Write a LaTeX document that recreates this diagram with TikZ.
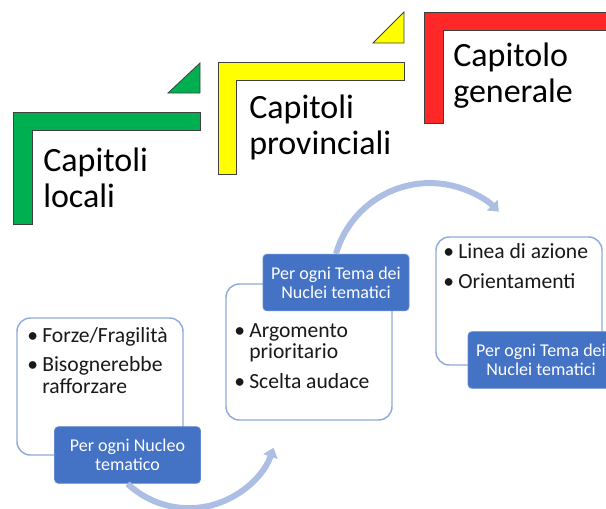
\documentclass[tikz,border=0pt]{standalone}
\usepackage{fontspec}
\setmainfont{Carlito}
\usetikzlibrary{arrows.meta}
\definecolor{stepgreen}{RGB}{0,176,80}
\definecolor{stepyellow}{RGB}{255,255,0}
\definecolor{stepred}{RGB}{255,40,40}
\definecolor{panelline}{RGB}{143,170,220}
\definecolor{tagblue}{RGB}{68,114,196}
\definecolor{tagline}{RGB}{98,138,208}
\definecolor{flowblue}{RGB}{172,190,228}
\newcommand{\bulitem}{\makebox[11.25pt][l]{•}}
\newcommand{\bulcont}{\hspace*{11.25pt}}

\begin{document}
\begin{tikzpicture}[
    x=0.75pt, y=-0.75pt,
    stair/.style={draw=black!75, line width=0.6pt},
    stair label/.style={anchor=base west, align=left, inner sep=0pt,
    font=\fontsize{25.5}{27}\selectfont},
    panel/.style={draw=panelline, line width=1.1pt, fill=white,
    rounded corners=10pt, minimum width=124.5pt},
    tag/.style={draw=tagline, line width=0.6pt, fill=tagblue,
    rounded corners=3pt, minimum width=109.5pt, minimum height=42.5pt,
    align=center, text=white, font=\fontsize{13.5}{14.5}\selectfont},
    items/.style={anchor=base west, align=left, inner sep=0pt,
    text=black!90, font=\fontsize{16.2}{16.2}\selectfont},
    flow/.style={draw=flowblue, line width=4.5pt,
    -{Triangle[width=11pt,length=7pt]}}
    ]

\path[use as bounding box, clip] (0,0) rectangle (606,508);

\draw[stair, fill=stepgreen] (13,112) -- ++(187,0) -- ++(0,18)
    -- ++(-168,0) -- ++(0,94) -- ++(-19,0) -- cycle;
\draw[stair, fill=stepgreen] (168,93) -- (200,63) -- (200,93) -- cycle;
\node (loc) [stair label] at (43,207) {Capitoli\\locali};

\draw[stair, fill=stepyellow] (218,62) -- ++(186,0) -- ++(0,18)
    -- ++(-168,0) -- ++(0,94) -- ++(-18,0) -- cycle;
\draw[stair, fill=stepyellow] (373,43) -- (404,12) -- (404,43) -- cycle;
\node (prov) [stair label] at (249,154) {Capitoli\\provinciali};

\draw[stair, fill=stepred] (424,12) -- ++(187,0) -- ++(0,18)
    -- ++(-168,0) -- ++(0,93) -- ++(-19,0) -- cycle;
\node (gen) [stair label] at (453,102) {Capitolo\\generale};

\node (box1) [panel, minimum height=102.75pt] at (100,386.5) {};
\node (list1) [items] at (27,393)
    {\bulitem Forze/Fragilità\\[5.6pt]\bulitem Bisognerebbe\\\bulcont rafforzare};
\node (lab1) [tag] at (127.5,455) {Per ogni Nucleo\\tematico};

\node (box2) [panel, minimum height=102pt] at (309,352) {};
\node (list2) [items] at (234,388)
    {\bulitem Argomento\\\bulcont prioritario\\[5.6pt]\bulitem Scelta audace};
\node (lab2) [tag] at (336,282.5) {Per ogni Tema dei\\Nuclei tematici};

\node (box3) [panel, minimum height=96pt] at (519,301) {};
\node (list3) [items] at (443,288)
    {\bulitem Linea di azione\\[5.6pt]\bulitem Orientamenti};
\node (lab3) [tag] at (541,360) {Per ogni Tema dei\\Nuclei tematici};

\draw[flow] (lab1.south) arc[start angle=133.4, end angle=18.9, radius=89.4];

\draw[flow] (lab2.north) arc[start angle=-164, end angle=-45, radius=97.6];

\end{tikzpicture}
\end{document}
